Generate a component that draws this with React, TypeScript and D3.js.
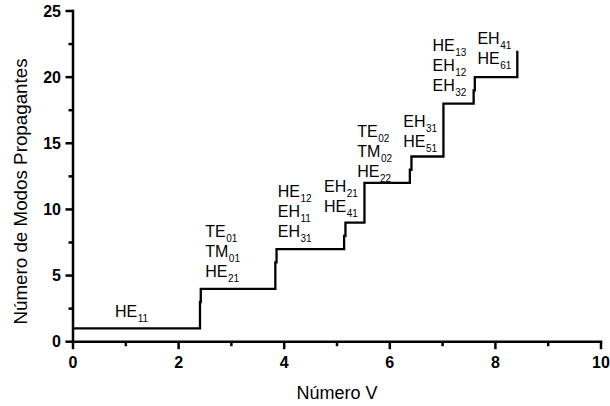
import React from "react";
import * as d3 from "d3";

// Cut-off V values where the mode count steps up, and the count after each step
const cutoffV = [0, 2.405, 2.42, 3.832, 3.855, 5.135, 5.16, 5.52, 6.38, 6.41, 7.016, 7.588, 7.61, 8.415];
const modeCount = [1, 3, 4, 6, 7, 8, 9, 12, 13, 14, 18, 19, 20, 22];

// Mode-name annotations: anchor (V, N) of the first line, then the names
const labelV = [0.795, 2.505, 3.877, 4.754, 5.385, 6.256, 6.81, 7.66];
const labelN = [1.85, 7.9, 10.97, 11.33, 15.5, 16.25, 22.0, 22.5];
const labelModes: [string, string][][] = [
  [["HE", "11"]],
  [["TE", "01"], ["TM", "01"], ["HE", "21"]],
  [["HE", "12"], ["EH", "11"], ["EH", "31"]],
  [["EH", "21"], ["HE", "41"]],
  [["TE", "02"], ["TM", "02"], ["HE", "22"]],
  [["EH", "31"], ["HE", "51"]],
  [["HE", "13"], ["EH", "12"], ["EH", "32"]],
  [["EH", "41"], ["HE", "61"]],
];

const xMajor = [0, 2, 4, 6, 8, 10];
const xMinor = [1, 3, 5, 7, 9];
const yMajor = [0, 5, 10, 15, 20, 25];
const yMinor = [2.5, 7.5, 12.5, 17.5, 22.5];

const W = 610;
const H = 406;
const FONT = "'Liberation Sans', Arial, sans-serif";

export default function App() {
  const x = d3.scaleLinear().domain([0, 10]).range([73, 601]);
  const y = d3.scaleLinear().domain([0, 25]).range([341.7, 11]);

  const pts: [number, number][] = cutoffV.map((v, i) => [v, modeCount[i]]);
  const line = d3
    .line<[number, number]>()
    .x((d) => x(d[0]))
    .y((d) => y(d[1]))
    .curve(d3.curveStepAfter);

  const x0 = x(0);
  const y0 = y(0);
  const lineGap = 20;

  return (
    <svg
      width={W}
      height={H}
      style={{ position: "absolute", left: 0, top: 0, background: "#fff" }}
      fontFamily={FONT}
    >
      <rect width={W} height={H} fill="#fff" />
      {/* step curve */}
      <path d={line(pts) || ""} fill="none" stroke="#000" strokeWidth={2.3} strokeLinejoin="miter" />

      {/* axes */}
      <line x1={x(0)} x2={x(10)} y1={y0} y2={y0} stroke="#000" strokeWidth={2.5} strokeLinecap="square" />
      <line x1={x0} x2={x0} y1={y(0)} y2={y(25)} stroke="#000" strokeWidth={2.5} strokeLinecap="square" />

      {xMajor.map((t) => (
        <g key={"xM" + t}>
          <line x1={x(t)} x2={x(t)} y1={y0} y2={y0 + 7.5} stroke="#000" strokeWidth={2.5} />
          <text x={x(t)} y={367.5} textAnchor="middle" fontSize={16} fontWeight="bold">
            {t}
          </text>
        </g>
      ))}
      {xMinor.map((t) => (
        <line key={"xm" + t} x1={x(t)} x2={x(t)} y1={y0} y2={y0 + 4.5} stroke="#000" strokeWidth={2.5} />
      ))}
      {yMajor.map((t) => (
        <g key={"yM" + t}>
          <line x1={x0 - 7.5} x2={x0} y1={y(t)} y2={y(t)} stroke="#000" strokeWidth={2.5} />
          <text x={61} y={y(t) + 5.7} textAnchor="end" fontSize={16} fontWeight="bold">
            {t}
          </text>
        </g>
      ))}
      {yMinor.map((t) => (
        <line key={"ym" + t} x1={x0 - 4.5} x2={x0} y1={y(t)} y2={y(t)} stroke="#000" strokeWidth={2.5} />
      ))}

      {/* axis titles */}
      <text x={(x(0) + x(10)) / 2} y={399} textAnchor="middle" fontSize={18}>
        Número V
      </text>
      <text
        transform={`translate(26.7, 191.5) rotate(-90)`}
        textAnchor="middle"
        fontSize={18.8}
      >
        Número de Modos Propagantes
      </text>

      {/* mode annotations */}
      {labelModes.map((group, gi) => (
        <g key={"lab" + gi}>
          {group.map(([name, sub], li) => (
            <text
              key={li}
              x={x(labelV[gi])}
              y={y(labelN[gi]) + li * lineGap}
              fontSize={16}
            >
              {name}
              <tspan fontSize={10} dy={5} dx={0.5}>
                {sub}
              </tspan>
            </text>
          ))}
        </g>
      ))}
    </svg>
  );
}
